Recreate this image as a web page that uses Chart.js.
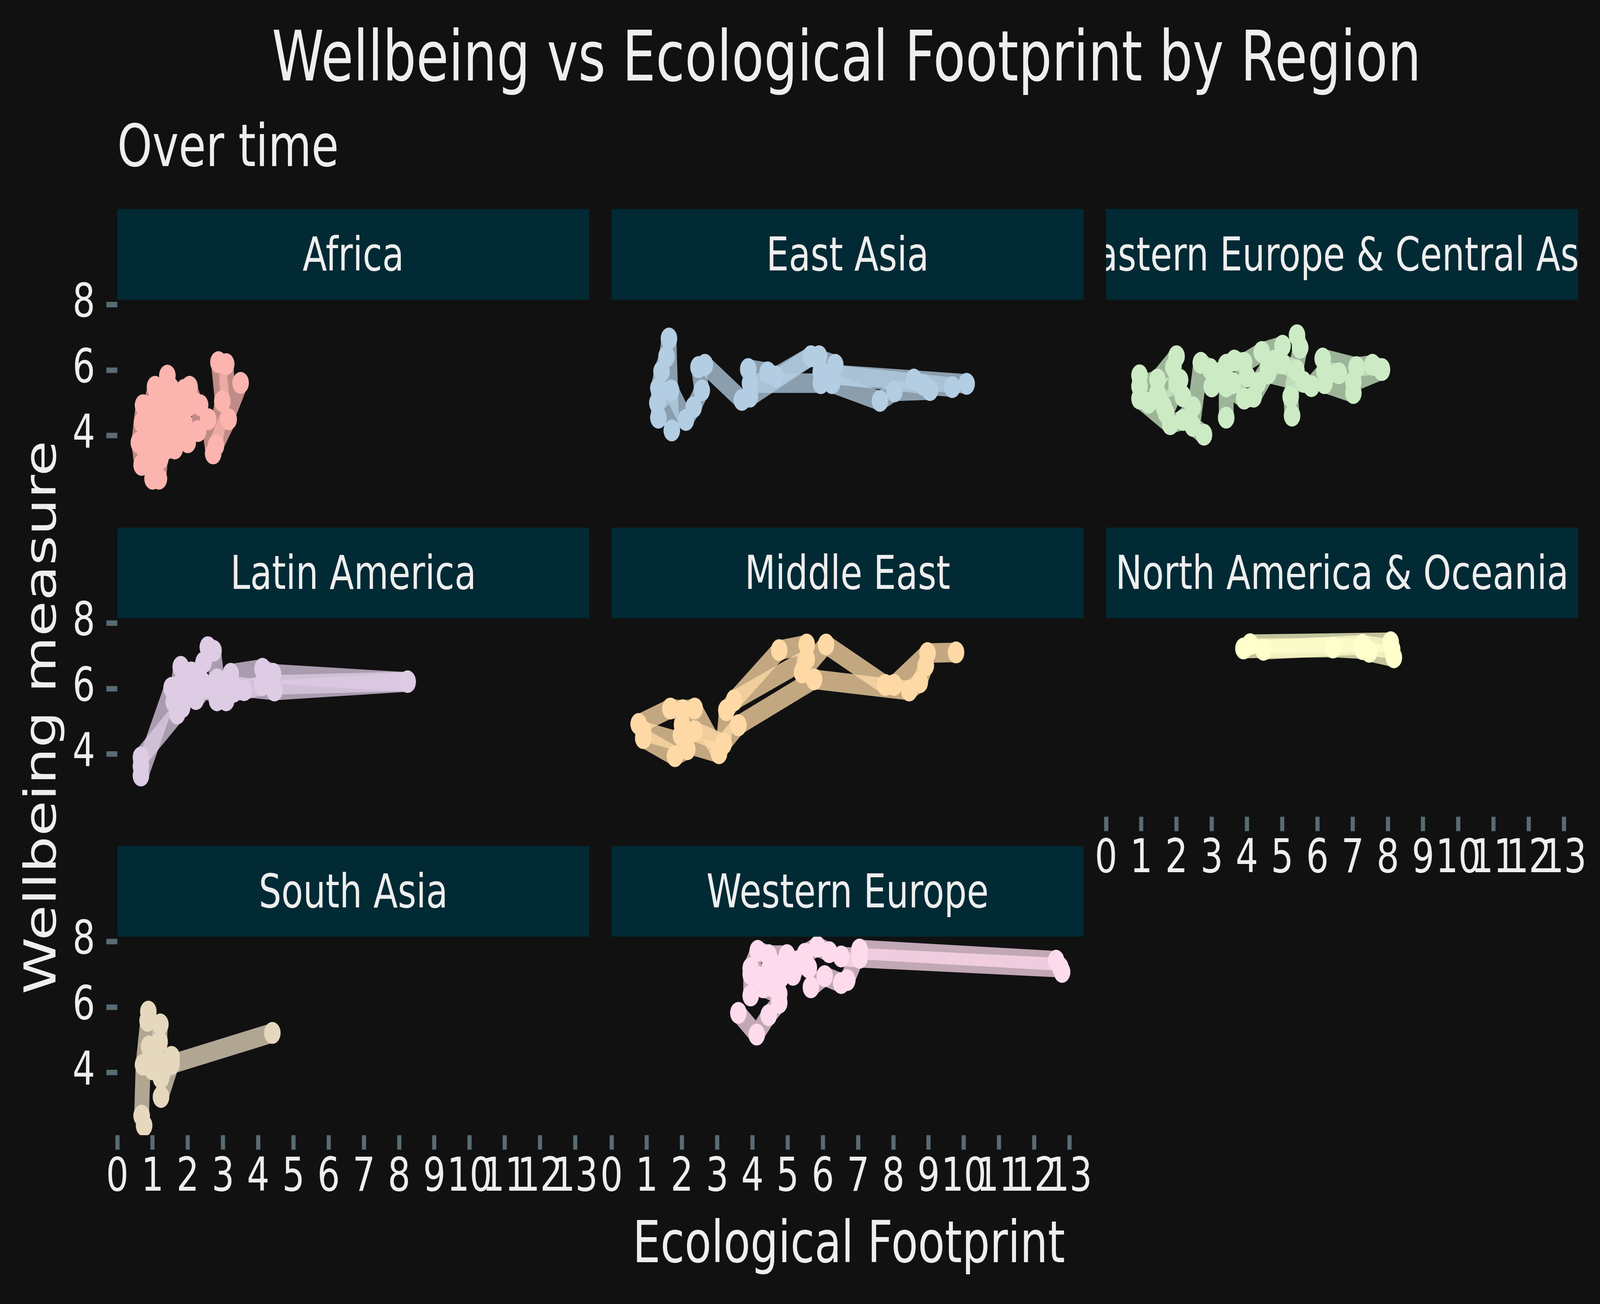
<!DOCTYPE html>
<html>
<head>
<meta charset="utf-8">
<script src="https://cdn.jsdelivr.net/npm/chart.js@4.4.1/dist/chart.umd.min.js"></script>
<style>
html, body { margin: 0; padding: 0; background: #111111; overflow: hidden; }
#root { width: 5400px; height: 3337px; position: absolute; left: 0; top: 0; transform-origin: 0 0; font-family: 'DejaVu Sans', sans-serif; color: #eeeeee; background: #111111; }
.txt { position: absolute; line-height: 1; white-space: nowrap; }
.strip { position: absolute; background: #012a35; overflow: hidden; display: flex; align-items: center; justify-content: center; font-size: 120px; line-height: 1; white-space: nowrap; }
canvas { position: absolute; }
</style>
</head>
<body>
<div id="root">
<div class="txt" style="left:0; width:5714px; top:56px; font-size:178px; text-align:center;">Wellbeing vs Ecological Footprint by Region</div>
<div class="txt" style="left:396px; top:298px; font-size:150px;">Over time</div>
<div class="txt" style="left:0; width:5730px; top:3105px; font-size:148px; text-align:center;">Ecological Footprint</div>
<div class="txt" style="left:-664px; width:1600px; top:1762px; height:148px; font-size:148px; text-align:center; transform:rotate(-90deg);">Wellbeing measure</div>
<div id="panels"></div>
</div>
<script>
// facet labels and colours
const regions = ['Africa', 'East Asia', 'Eastern Europe & Central Asia', 'Latin America',
    'Middle East', 'North America & Oceania', 'South Asia', 'Western Europe'];
const regionColors = ['#FBB4AE', '#B3CDE3', '#CCEBC5', '#DECBE4', '#FED9A6', '#FFFFCC', '#E5D8BD', '#FDDAEC'];

const xTicks = [0, 1, 2, 3, 4, 5, 6, 7, 8, 9, 10, 11, 12, 13];
const yTicks = [4, 6, 8];

// [footprint, wellbeing] paths
const africa = [
    [[2.87, 6.24], [2.98, 5.05], [2.72, 3.46], [2.58, 4.50]],
    [[3.09, 6.18], [3.16, 4.50], [2.80, 3.70], [3.50, 5.61]],
    [[0.73, 4.93], [0.61, 3.79], [0.69, 3.11], [0.78, 4.30]],
    [[1.00, 2.69], [1.18, 2.69], [1.22, 3.30], [1.05, 3.90]],
    [[1.42, 5.83], [1.30, 5.20], [1.60, 4.60], [1.52, 5.45]],
    [[1.07, 5.49], [0.95, 4.90], [1.20, 4.30], [1.10, 5.10]],
    [[2.05, 5.49], [2.20, 5.00], [2.35, 4.93], [2.29, 4.14]],
    [[1.63, 3.61], [1.80, 4.00], [2.00, 3.80], [1.90, 4.40]],
    [[0.80, 3.50], [0.90, 4.00], [1.00, 3.30], [0.85, 3.90]],
    [[1.30, 3.90], [1.50, 4.20], [1.40, 3.60], [1.60, 4.90]],
    [[1.70, 5.20], [1.80, 4.70], [1.90, 5.40], [2.00, 4.90]],
    [[0.70, 4.40], [0.90, 4.60], [1.10, 4.00], [1.20, 4.70]]
];
const eastAsia = [
    [[1.33, 4.55], [1.33, 5.45], [1.42, 5.96], [1.56, 6.41], [1.63, 6.96], [1.71, 4.16]],
    [[1.30, 5.00], [1.69, 5.38], [2.11, 4.48], [2.33, 4.87], [2.56, 5.38], [2.47, 6.09]],
    [[2.47, 6.09], [2.65, 6.16], [3.70, 5.09], [3.93, 5.19], [5.66, 6.42], [5.89, 6.42]],
    [[3.88, 6.03], [4.43, 5.93], [4.66, 5.80], [5.66, 6.42], [6.35, 6.16], [6.26, 5.87], [10.08, 5.58]],
    [[3.93, 5.60], [5.94, 5.60], [5.94, 5.90], [9.67, 5.48], [8.85, 5.55]],
    [[5.94, 5.96], [6.26, 5.60], [7.62, 5.06], [8.03, 5.35], [9.04, 5.39], [8.58, 5.71]]
];
const easternEurope = [
    [[0.95, 5.84], [0.95, 5.51], [1.46, 5.71], [2.00, 6.42], [1.91, 6.09]],
    [[0.95, 5.13], [1.82, 4.35], [2.18, 4.48], [2.46, 4.87]],
    [[1.64, 4.87], [1.46, 5.30], [2.00, 5.60], [2.18, 5.20]],
    [[2.78, 4.03], [2.46, 4.30], [2.69, 6.22], [2.96, 6.03]],
    [[3.41, 4.55], [3.41, 5.50], [3.92, 5.13], [4.19, 5.19], [4.78, 6.29]],
    [[3.41, 6.16], [3.64, 6.29], [3.92, 6.22], [4.42, 6.55], [5.01, 6.74]],
    [[5.42, 7.06], [5.51, 6.68], [5.24, 5.19], [5.28, 4.61]],
    [[4.60, 5.90], [5.60, 5.64], [5.83, 5.51], [6.20, 5.96], [6.61, 5.90]],
    [[6.15, 6.35], [7.11, 6.09], [7.56, 6.16], [7.83, 6.03]],
    [[6.20, 5.60], [7.02, 5.30], [7.02, 5.64], [7.83, 6.00]],
    [[3.00, 5.50], [3.20, 5.90], [3.60, 5.60], [4.00, 5.80]],
    [[4.30, 5.60], [4.60, 6.10], [5.00, 6.20], [5.40, 6.00]],
    [[1.20, 5.00], [1.50, 5.20], [1.70, 4.70], [2.10, 5.70]]
];
const latinAmerica = [
    [[0.67, 3.35], [1.54, 6.02], [1.72, 6.07], [1.80, 6.66]],
    [[0.67, 3.64], [0.67, 3.90], [1.70, 5.24], [1.84, 5.43]],
    [[2.57, 7.26], [2.73, 7.15], [2.83, 6.28], [2.83, 5.64]],
    [[2.10, 6.49], [2.23, 5.68], [2.50, 6.00], [3.09, 5.64]],
    [[3.22, 6.45], [4.12, 6.60], [4.42, 6.45], [8.24, 6.20]],
    [[3.30, 6.07], [4.46, 5.94], [8.24, 6.20]],
    [[2.00, 5.80], [2.40, 6.20], [2.90, 6.00], [3.30, 5.90]],
    [[1.60, 5.60], [1.90, 6.20], [2.20, 6.30], [2.45, 6.80]],
    [[3.10, 5.90], [3.60, 5.95], [4.10, 6.10], [8.24, 6.22]]
];
const middleEast = [
    [[0.77, 4.92], [1.67, 5.39], [2.02, 5.34], [2.36, 5.39], [3.05, 4.03]],
    [[0.90, 4.49], [1.80, 3.94], [2.15, 4.15], [1.97, 4.58]],
    [[0.90, 4.70], [3.05, 4.03], [3.18, 4.32], [3.26, 5.34]],
    [[3.48, 5.64], [4.76, 7.17], [5.54, 7.34], [5.41, 6.49]],
    [[3.60, 4.88], [5.75, 6.28], [8.45, 5.94], [8.75, 6.19], [8.92, 6.70]],
    [[5.41, 6.49], [6.09, 7.34], [7.77, 6.11], [8.02, 6.11], [8.97, 7.08], [9.78, 7.10]],
    [[2.00, 4.90], [2.36, 4.70], [3.18, 4.32], [3.60, 4.88]],
    [[3.26, 5.34], [3.48, 5.64], [5.54, 6.90]]
];
const northAmerica = [
    [[4.09, 7.35], [8.08, 7.41]],
    [[3.90, 7.22], [6.44, 7.25], [7.28, 7.20], [7.47, 7.12], [8.17, 6.95]],
    [[4.47, 7.18], [7.28, 7.33], [8.12, 7.20]]
];
const southAsia = [
    [[0.88, 5.86], [0.86, 5.58], [0.73, 4.24], [0.69, 2.69], [0.76, 2.39]],
    [[1.22, 5.47], [1.20, 4.94], [1.24, 3.84], [1.54, 4.48]],
    [[4.40, 5.21], [1.54, 4.26], [1.24, 3.26]],
    [[0.90, 4.80], [1.10, 4.50], [1.00, 4.10], [1.30, 4.30]]
];
const westernEurope = [
    [[3.95, 7.18], [4.15, 7.71], [4.46, 7.58], [4.98, 7.58]],
    [[3.60, 5.82], [4.12, 5.16], [4.46, 5.75], [4.76, 6.13]],
    [[3.95, 6.35], [3.95, 7.00], [4.30, 6.60], [4.76, 6.40]],
    [[5.15, 6.98], [5.49, 7.62], [5.84, 7.84], [6.18, 7.67]],
    [[5.66, 6.60], [6.05, 6.94], [6.52, 6.73], [6.69, 6.82], [7.04, 7.75]],
    [[6.52, 7.54], [7.04, 7.50], [12.74, 7.20], [12.79, 7.07]],
    [[7.04, 7.75], [12.62, 7.41]],
    [[4.60, 7.30], [5.00, 7.10], [5.30, 7.40], [5.60, 7.20]],
    [[4.20, 6.90], [4.50, 7.20], [4.80, 6.90], [4.60, 6.60]]
];

const regionPaths = [africa, eastAsia, easternEurope, latinAmerica, middleEast, northAmerica, southAsia, westernEurope];

// page geometry of the facet grid (5400 x 3337 drawing)
const colLeft = [396, 2064, 3733];
const rowTop = [767, 1582, 2397];
const panelW = 1593;
const panelH = 508;
const stripH = 232;
const axisW = 200;
const axisH = 200;
const pad = 140;   // room Chart.js keeps for half a tick label plus padding

// stretch the drawing over whatever viewport we get
const root = document.getElementById('root');
root.style.transform = `scale(${window.innerWidth / 5400}, ${window.innerHeight / 3337})`;

function rgba(hex, a) {
    const n = parseInt(hex.slice(1), 16);
    return `rgba(${n >> 16}, ${(n >> 8) & 255}, ${n & 255}, ${a})`;
}

function makePanel(i) {
    const col = i % 3;
    const row = Math.floor(i / 3);
    const showY = col === 0;
    const showX = row === 2 || (row === 1 && col === 2);
    const color = regionColors[i];
    const host = document.getElementById('panels');

    const strip = document.createElement('div');
    strip.className = 'strip';
    strip.style.left = colLeft[col] + 'px';
    strip.style.top = (rowTop[row] - stripH) + 'px';
    strip.style.width = panelW + 'px';
    strip.style.height = stripH + 'px';
    strip.textContent = regions[i];
    host.appendChild(strip);

    const canvas = document.createElement('canvas');
    const cw = axisW + panelW + pad;
    const ch = pad + panelH + (showX ? axisH : pad);
    canvas.width = cw;
    canvas.height = ch;
    canvas.style.width = cw + 'px';
    canvas.style.height = ch + 'px';
    canvas.style.left = (colLeft[col] - axisW) + 'px';
    canvas.style.top = (rowTop[row] - pad) + 'px';
    host.appendChild(canvas);

    const paths = regionPaths[i];
    const datasets = paths.map(path => ({
        data: path.map(p => ({ x: p[0], y: p[1] })),
        showLine: true,
        borderColor: rgba(color, 0.75),
        borderWidth: 50,
        borderJoinStyle: 'round',
        borderCapStyle: 'butt',
        pointRadius: 0,
        tension: 0,
        order: 1
    }));
    datasets.push({
        data: paths.flat().map(p => ({ x: p[0], y: p[1] })),
        showLine: false,
        pointRadius: 28,
        pointBackgroundColor: color,
        pointBorderWidth: 0,
        borderWidth: 0,
        order: 0
    });

    const tickGrid = {
        display: true,
        drawOnChartArea: false,
        drawTicks: true,
        tickLength: 37,
        tickWidth: 14,
        tickColor: '#596b73'
    };
    const tickFont = { family: 'DejaVu Sans', size: 120 };

    new Chart(canvas.getContext('2d'), {
        type: 'scatter',
        data: { datasets },
        options: {
            responsive: false,
            devicePixelRatio: 1,
            animation: false,
            events: [],
            layout: {
                autoPadding: false,
                padding: { left: showY ? 0 : axisW, right: pad, top: pad, bottom: showX ? 0 : pad }
            },
            plugins: { legend: { display: false }, tooltip: { enabled: false } },
            scales: {
                x: {
                    type: 'linear',
                    min: 0,
                    max: 13.4,
                    display: showX,
                    border: { display: false },
                    grid: tickGrid,
                    afterBuildTicks: s => { s.ticks = xTicks.map(v => ({ value: v })); },
                    afterFit: s => { s.height = showX ? axisH : 0; },
                    ticks: { color: '#eeeeee', font: tickFont, padding: 2, autoSkip: false, maxRotation: 0, minRotation: 0 }
                },
                y: {
                    type: 'linear',
                    min: 2.095,
                    max: 8.143,
                    display: showY,
                    border: { display: false },
                    grid: tickGrid,
                    afterBuildTicks: s => { s.ticks = yTicks.map(v => ({ value: v })); },
                    afterFit: s => { s.width = showY ? axisW : 0; },
                    ticks: { color: '#eeeeee', font: tickFont, padding: 38, autoSkip: false }
                }
            }
        }
    });
}

regions.forEach((r, i) => makePanel(i));
</script>
</body>
</html>
